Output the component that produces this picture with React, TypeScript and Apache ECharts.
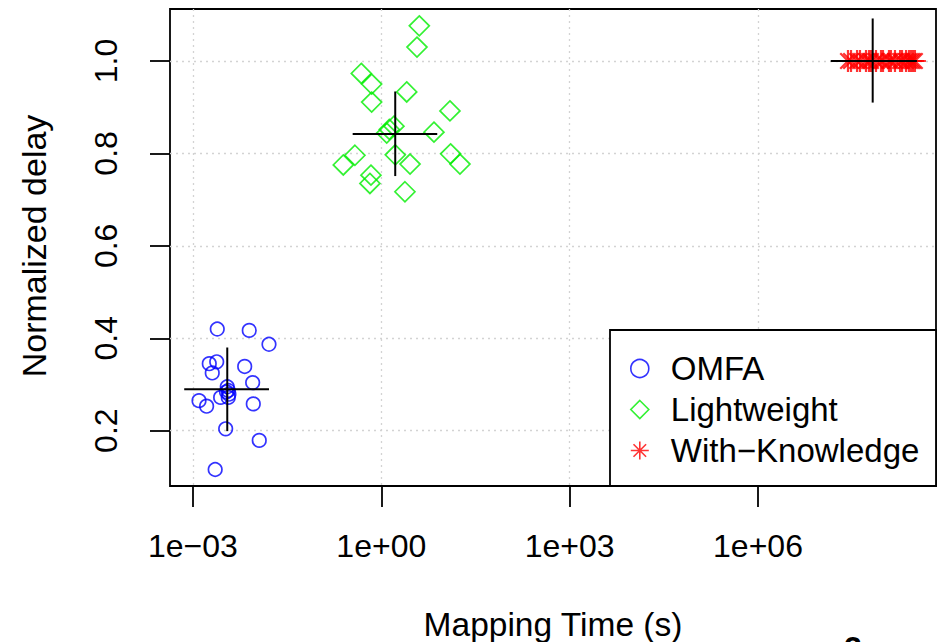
import React, { useEffect, useRef } from "react";
import * as echarts from "echarts";

// ---------- data ----------
const seriesNames = ["OMFA", "Lightweight", "With\u2212Knowledge"];

const omfaTime = [0.00244, 0.00789, 0.01626, 0.00182, 0.00239, 0.00203, 0.00667, 0.00893, 0.00352, 0.00365,
  0.00365, 0.00125, 0.00165, 0.00276, 0.00914, 0.00332, 0.01138, 0.00226, 0.00374, 0.00342];
const omfaDelay = [0.420, 0.417, 0.387, 0.345, 0.349, 0.325, 0.339, 0.304, 0.295, 0.287,
  0.272, 0.265, 0.253, 0.272, 0.258, 0.204, 0.179, 0.116, 0.279, 0.284];

const lightTime = [4.03, 3.70, 0.480, 0.702, 0.702, 2.54, 12.4, 1.59, 1.34, 1.22,
  6.90, 0.380, 0.248, 1.67, 2.87, 12.7, 17.9, 0.684, 0.659, 2.38];
const lightDelay = [1.076, 1.030, 0.973, 0.950, 0.911, 0.933, 0.892, 0.859, 0.852, 0.844,
  0.846, 0.796, 0.775, 0.797, 0.777, 0.799, 0.777, 0.753, 0.735, 0.717];

const knowTime = [2.71e7, 3.03e7, 3.78e7, 4.21e7, 5.25e7, 5.86e7, 6.31e7, 7.57e7, 9.10e7, 9.79e7,
  1.22e8, 1.31e8, 1.52e8, 1.83e8, 1.97e8, 2.28e8, 2.54e8, 2.74e8, 2.94e8, 3.16e8];
const knowDelay = [1.0, 1.0, 1.0, 1.0, 1.0, 1.0, 1.0, 1.0, 1.0, 1.0,
  1.0, 1.0, 1.0, 1.0, 1.0, 1.0, 1.0, 1.0, 1.0, 1.0];

// summary crosses: centre and extents per group
const crossTime = [0.00352, 1.667, 6.71e7];
const crossDelay = [0.2896, 0.842, 1.0];
const crossTimeLo = [0.000726, 0.350, 1.44e7];
const crossTimeHi = [0.01626, 7.78, 3.4e8];
const crossDelayLo = [0.199, 0.751, 0.910];
const crossDelayHi = [0.380, 0.934, 1.092];

const xTicks = [1e-3, 1, 1e3, 1e6];
const yTicks = [0.2, 0.4, 0.6, 0.8, 1.0];

// ---------- styling ----------
const FONT = "Liberation Sans";
const X_MIN = 0.000431;
const X_MAX = 6.84e8;
const Y_MIN = 0.0803;
const Y_MAX = 1.1125;
const STAR = "path://M0 10L20 10M10 0L10 20M3 3L17 17M3 17L17 3";

const fmtExp = (v: number) => {
  const e = Math.round(Math.log10(v));
  const s = e < 0 ? "\u2212" : "+";
  return "1e" + s + String(Math.abs(e)).padStart(2, "0");
};

const zip = (a: number[], b: number[]) => a.map((v, i) => [v, b[i]]);

export default function App() {
  const ref = useRef<HTMLDivElement>(null);
  useEffect(() => {
    if (!ref.current) return;
    const chart = echarts.init(ref.current, null, { renderer: "svg" });
    const grid = "#d3d3d3";
    const crossData = crossTime.map((t, i) => [t, crossDelay[i], crossTimeLo[i], crossTimeHi[i], crossDelayLo[i], crossDelayHi[i]]);
    chart.setOption({
      animation: false,
      backgroundColor: "#fff",
      textStyle: { fontFamily: FONT },
      grid: {
        left: 170, top: 9, width: 766, height: 477,
        show: true, borderColor: "#000", borderWidth: 1.8, backgroundColor: "transparent",
        containLabel: false, outerBoundsMode: "none",
      },
      xAxis: {
        type: "log", logBase: 10, min: X_MIN, max: X_MAX,
        axisLine: { show: false },
        axisTick: { show: true, length: 21, lineStyle: { color: "#000", width: 1.8 }, customValues: xTicks },
        axisLabel: { customValues: xTicks, margin: 44, fontSize: 32, color: "#000", fontFamily: FONT, formatter: (v: number) => fmtExp(v) },
        splitLine: { show: true, lineStyle: { color: grid, type: [2, 4], width: 1.3 } },
        name: "Mapping Time (s)", nameLocation: "middle", nameGap: 121,
        nameTextStyle: { fontSize: 33.5, color: "#000", fontFamily: FONT },
      },
      yAxis: {
        type: "value", min: Y_MIN, max: Y_MAX,
        axisLine: { show: false },
        axisTick: { show: true, length: 20, lineStyle: { color: "#000", width: 1.8 }, customValues: yTicks },
        axisLabel: { customValues: yTicks, rotate: 90, margin: 48, fontSize: 32, color: "#000", fontFamily: FONT, formatter: (v: number) => v.toFixed(1) },
        splitLine: { show: true, lineStyle: { color: grid, type: [2, 4], width: 1.3 } },
      },
      legend: {
        orient: "vertical", left: 630, top: 352, padding: 0, itemGap: 8,
        itemWidth: 18, itemHeight: 18, selectedMode: false, z: 6,
        data: seriesNames,
        itemStyle: { borderWidth: 1.6 },
        textStyle: { fontFamily: FONT, fontSize: 33, color: "#000", lineHeight: 18, padding: [0, 0, 0, 17] },
      },
      graphic: [
        { type: "rect", z: 3, silent: true, shape: { x: 610, y: 330, width: 326, height: 156 }, style: { fill: "#fff", stroke: "#000", lineWidth: 1.8 } },
        { type: "text", x: 33.5, y: 246, rotation: Math.PI / 2, silent: true, style: { text: "Normalized delay", fontSize: 34, fontFamily: FONT, fill: "#000", textAlign: "center", textVerticalAlign: "middle" } },
        { type: "text", x: 853, y: 632, silent: true, style: { text: "2", fontSize: 32, fontWeight: "bold", fontFamily: FONT, fill: "#000", textAlign: "center", textVerticalAlign: "top" } },
      ],
      series: [
        {
          name: seriesNames[0], type: "scatter", data: zip(omfaTime, omfaDelay),
          symbol: "circle", symbolSize: 13.5,
          itemStyle: { color: "transparent", borderColor: "#0000ff", borderWidth: 1.7 }, z: 2,
        },
        {
          name: seriesNames[1], type: "scatter", data: zip(lightTime, lightDelay),
          symbol: "diamond", symbolSize: 20,
          itemStyle: { color: "transparent", borderColor: "#00ee00", borderWidth: 1.7 }, z: 2,
        },
        {
          name: seriesNames[2], type: "scatter", data: zip(knowTime, knowDelay),
          symbol: STAR, symbolSize: 22,
          itemStyle: { color: "transparent", borderColor: "#ff0000", borderWidth: 2.2 }, z: 2,
        },
        {
          name: "summary", type: "custom", coordinateSystem: "cartesian2d", z: 4,
          encode: { x: [0, 2, 3], y: [1, 4, 5] },
          data: crossData,
          renderItem: (_p: any, api: any) => {
            const l = api.coord([api.value(2), api.value(1)]);
            const r = api.coord([api.value(3), api.value(1)]);
            const b = api.coord([api.value(0), api.value(4)]);
            const t = api.coord([api.value(0), api.value(5)]);
            const st = { stroke: "#000", lineWidth: 2 };
            return {
              type: "group",
              children: [
                { type: "line", shape: { x1: l[0], y1: l[1], x2: r[0], y2: r[1] }, style: st },
                { type: "line", shape: { x1: b[0], y1: b[1], x2: t[0], y2: t[1] }, style: st },
              ],
            };
          },
        },
      ],
    });
    return () => chart.dispose();
  }, []);
  return <div ref={ref} style={{ position: "fixed", left: 0, top: 0, width: 940, height: 642 }} />;
}
